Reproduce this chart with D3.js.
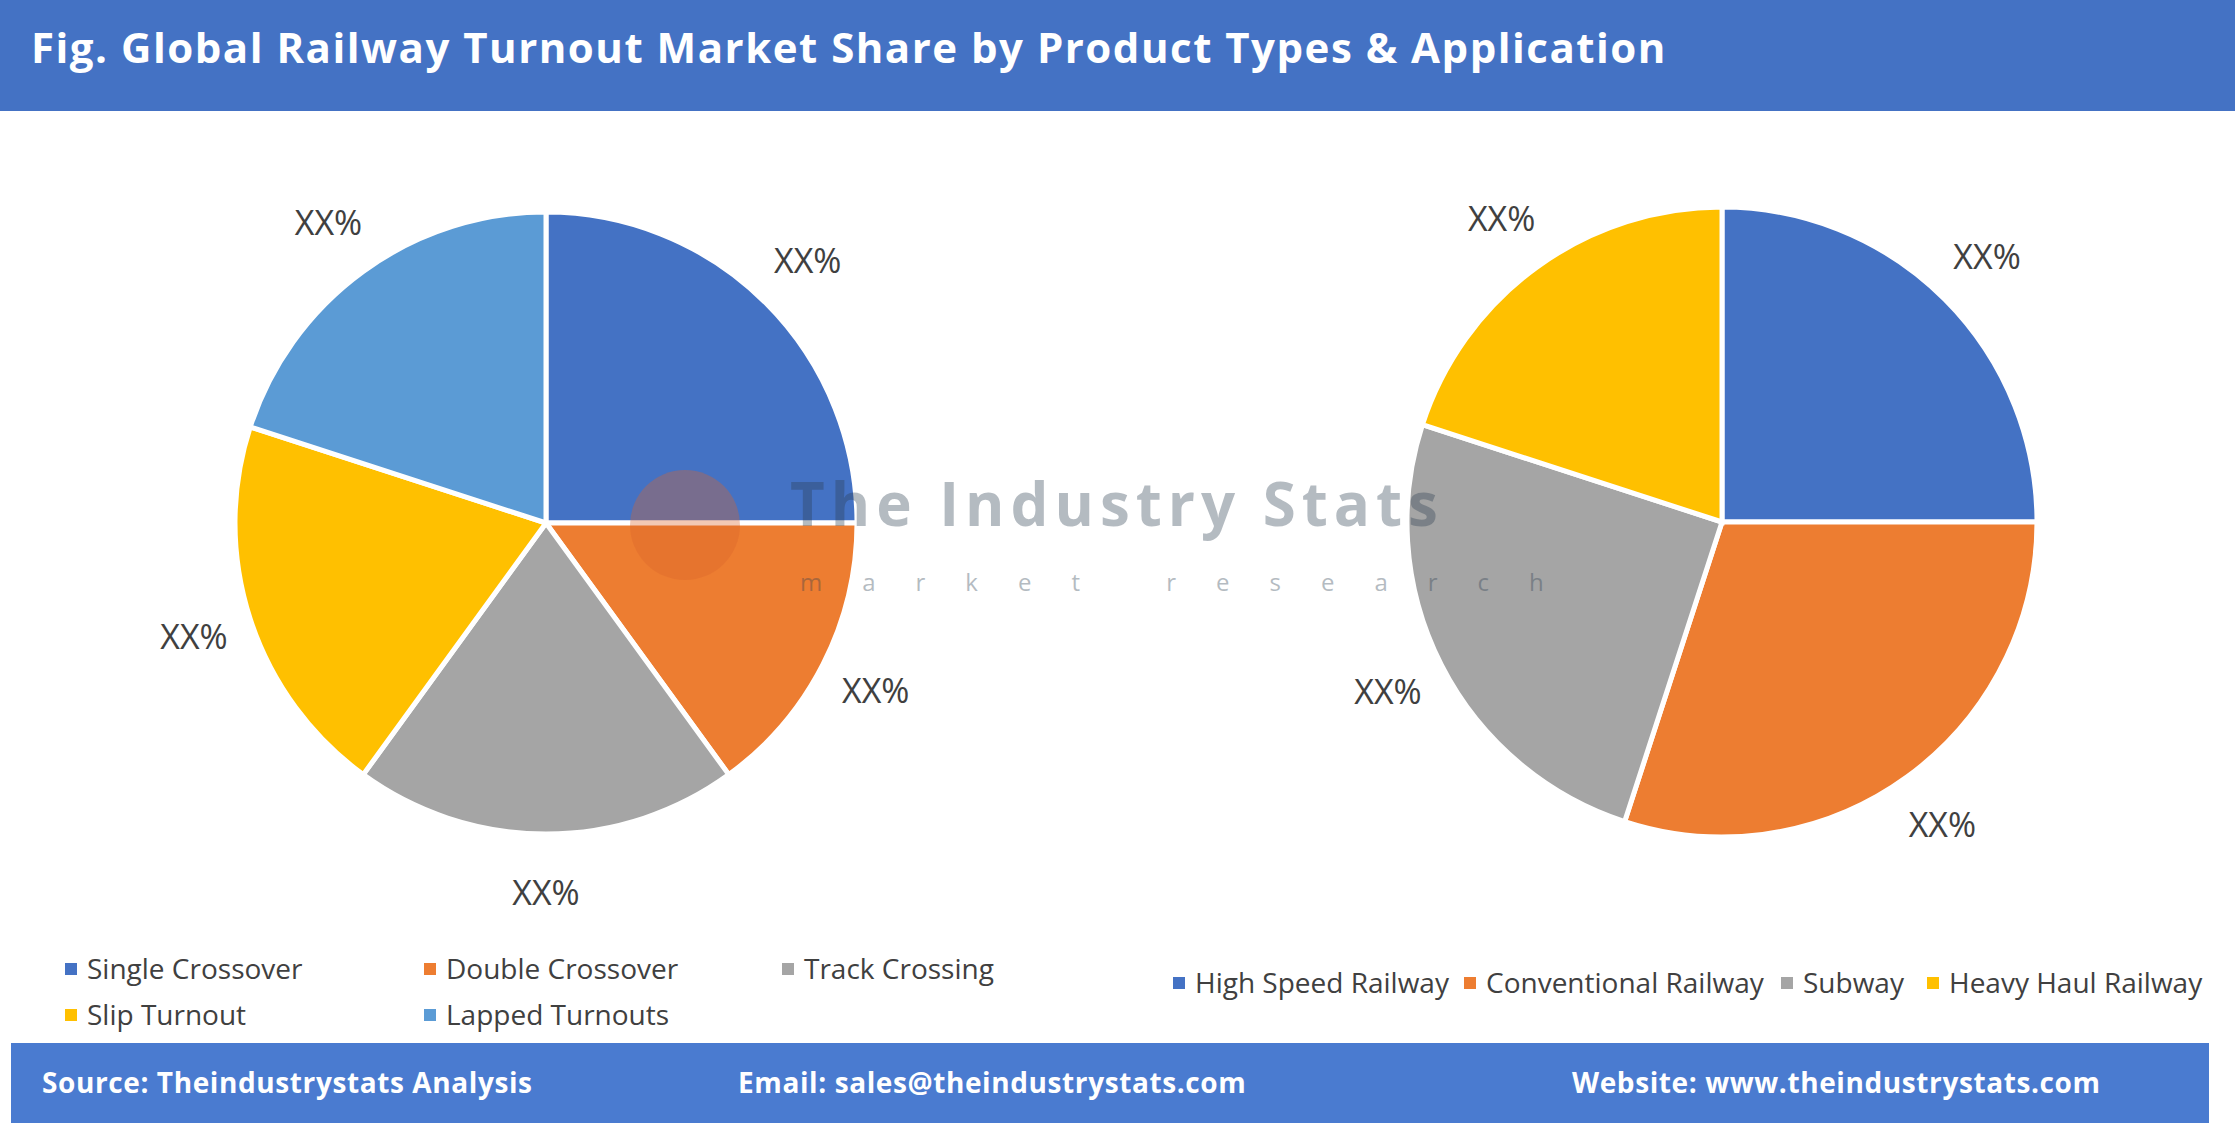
<!DOCTYPE html>
<html><head><meta charset="utf-8">
<script src="https://cdn.jsdelivr.net/npm/d3@7"></script>
<style>body{margin:0;background:#fff}svg{display:block}</style>
</head><body>
<script>
const productTypes = ["Single Crossover","Double Crossover","Track Crossing","Slip Turnout","Lapped Turnouts"];
const productValues = [25,15,20,20,20];
const productColors = ["#4472C4","#ED7D31","#A5A5A5","#FFC000","#5B9BD5"];
const applications = ["High Speed Railway","Conventional Railway","Subway","Heavy Haul Railway"];
const applicationValues = [25,30,25,20];
const applicationColors = ["#4472C4","#ED7D31","#A5A5A5","#FFC000"];
const labelText = "XX%";

const W=2235,H=1127;
const svg=d3.select("body").append("svg").attr("width",W).attr("height",H);
svg.append("rect").attr("width",W).attr("height",111).attr("fill","#4472C4");
svg.append("text").attr("x",31).attr("y",63).attr("fill","#fff").attr("font-family","Open Sans").attr("font-weight","bold").attr("font-size",42).attr("letter-spacing",1.5).text("Fig. Global Railway Turnout Market Share by Product Types & Application");

function pie(cx,cy,r,vals,cols){
  const g=svg.append("g").attr("transform",`translate(${cx},${cy})`);
  const arcs=d3.pie().sort(null)(vals);
  const arc=d3.arc().innerRadius(0).outerRadius(r);
  const lab=d3.arc().innerRadius(r*1.19).outerRadius(r*1.19);
  g.selectAll("path").data(arcs).join("path").attr("d",arc).attr("fill",(d,i)=>cols[i]).attr("stroke","#fff").attr("stroke-width",5);
  g.selectAll("text").data(arcs).join("text").attr("transform",d=>`translate(${lab.centroid(d)})`)
   .attr("text-anchor","middle").attr("dy","0.35em").attr("font-family","Open Sans").attr("font-size",34).attr("fill","#404040").text(labelText);
}
pie(546,523,311,productValues,productColors);
pie(1722,522,315,applicationValues,applicationColors);

// watermark
const wm=svg.append("g").attr("opacity",0.35);
wm.append("circle").attr("cx",685).attr("cy",525).attr("r",55).attr("fill","#d9652b");
wm.append("text").attr("x",790).attr("y",510).attr("font-family","Open Sans").attr("font-weight","bold").attr("font-size",60).attr("letter-spacing",6).attr("fill","#2c3e50").attr("dominant-baseline","middle").text("The Industry Stats");
wm.append("text").attr("x",800).attr("y",585).attr("font-family","Open Sans").attr("font-size",24).attr("fill","#2c3e50").attr("letter-spacing",40).attr("dominant-baseline","middle").text("market research");

function legend(items,cols,pos){
  items.forEach((t,i)=>{
    const [x,y]=pos[i];
    svg.append("rect").attr("x",x-6).attr("y",y-6).attr("width",12).attr("height",12).attr("fill",cols[i]);
    svg.append("text").attr("x",x+16).attr("y",y).attr("dy","0.35em").attr("font-family","Open Sans").attr("font-size",28).attr("fill","#404040").text(t);
  });
}
legend(productTypes,productColors,[[71,969],[430,969],[788,969],[71,1015],[430,1015]]);
legend(applications,applicationColors,[[1179,983],[1470,983],[1787,983],[1933,983]]);

svg.append("rect").attr("x",11).attr("y",1043).attr("width",2198).attr("height",80).attr("fill","#4A7BD0");
[["Source: Theindustrystats Analysis",42],["Email: sales@theindustrystats.com",738],["Website: www.theindustrystats.com",1572]].forEach(([t,x])=>{
  svg.append("text").attr("x",x).attr("y",1083).attr("dy","0.35em").attr("font-family","Open Sans").attr("font-weight","bold").attr("font-size",28).attr("letter-spacing",0.6).attr("fill","#fff").text(t);
});
</script>
</body></html>
